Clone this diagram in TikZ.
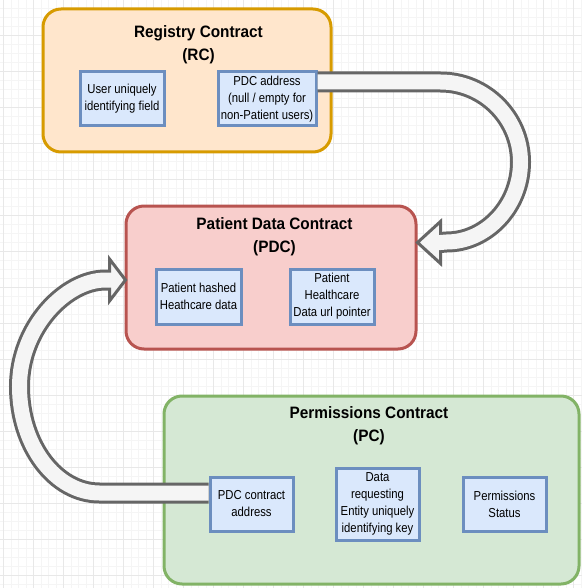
\documentclass[tikz,border=0pt]{standalone}
\usepackage{fontspec}
\setmainfont{Liberation Sans}[FakeStretch=0.87]
\newfontfamily\titlefont{Liberation Sans}[FakeStretch=0.93]
\usetikzlibrary{calc}
\definecolor{rcfill}{HTML}{FFE6CC}
\definecolor{rcline}{HTML}{D79B00}
\definecolor{pdcfill}{HTML}{F8CECC}
\definecolor{pdcline}{HTML}{B85450}
\definecolor{pcfill}{HTML}{D5E8D4}
\definecolor{pcline}{HTML}{82B366}
\definecolor{fieldfill}{HTML}{DAE8FC}
\definecolor{fieldline}{HTML}{6C8EBF}
\definecolor{arrowfill}{HTML}{F5F5F5}
\definecolor{arrowline}{HTML}{666666}
\newcommand{\fnode}[4]{\node(#1)[field,minimum width=#3,minimum height=#4] at #2}
\newcommand{\flexarrow}[2]{%
  \draw[shaftout] #1;
  \filldraw[tipshape] #2;
  \draw[shaftin,shorten >=-3pt] #1;}

\begin{document}
\begin{tikzpicture}[
        x=1pt,y=-1pt,
        every node/.style={font=\fontsize{13}{17}\selectfont,align=center},
        contract/.style={rectangle,rounded corners=18pt,line width=3pt},
        field/.style={rectangle,line width=3pt,draw=fieldline,fill=fieldfill,inner sep=1pt},
        heading/.style={font=\titlefont\bfseries\fontsize{16.5}{23}\selectfont},
        shaftout/.style={draw=arrowline,line width=21pt},
        shaftin/.style={draw=arrowfill,line width=15pt},
        tipshape/.style={fill=arrowfill,draw=arrowline,line width=3pt,line join=miter},
        gridminor/.style={draw=black!4,line width=0.6pt},
        gridmajor/.style={draw=black!9,line width=0.6pt}
      ]
      \useasboundingbox[fill=white] (0,0) rectangle (582,588);

      % faint background grid
      \foreach \gx in {3.3,10.8,...,582} \draw[gridminor] (\gx,0) -- (\gx,588);
      \foreach \gy in {-1,8,...,588} \draw[gridminor] (0,\gy) -- (582,\gy);
      \foreach \gx in {3.3,33.3,...,582} \draw[gridmajor] (\gx,0) -- (\gx,588);
      \foreach \gy in {-1,35,...,588} \draw[gridmajor] (0,\gy) -- (582,\gy);

      % Contracts
      \node(rc)[contract,draw=rcline,fill=rcfill,minimum width=288pt,minimum height=143pt] at (187,80.5) {};
      \node(pdc)[contract,draw=pdcline,fill=pdcfill,minimum width=290pt,minimum height=143pt] at (271,277.5) {};
      \node(pc)[contract,draw=pcline,fill=pcfill,minimum width=415pt,minimum height=188pt] at (371.5,490) {};

      \node(rctitle)[heading] at (198.5,44.5) {Registry Contract\\(RC)};
      \node(pdctitle)[heading] at (274.5,237) {Patient Data Contract\\(PDC)};
      \node(pctitle)[heading] at (369,426) {Permissions Contract\\(PC)};

      % Fields of each contract
      \fnode{userid}{(122,99)}{84pt}{54pt} {User uniquely\\identifying field};
      \fnode{pdcaddr}{(267,99)}{98pt}{54pt} {PDC address\\(null / empty for\\non-Patient users)};

      \fnode{hashed}{(198.5,296.5)}{85pt}{55pt} {Patient hashed\\Heathcare data};
      \fnode{urlptr}{(332,296.5)}{84pt}{55pt} {Patient\\Healthcare\\Data url pointer};

      \fnode{pcaddr}{(251.5,504)}{83pt}{54pt} {PDC contract\\address};
      \fnode{reqkey}{(377.5,504)}{83pt}{72pt} {Data\\requesting\\Entity uniquely\\identifying key};
      \fnode{permstat}{(504.5,504)}{83pt}{54pt} {Permissions\\Status};

      % Big curved arrows
      \coordinate (a1s) at ($(pdcaddr.east)+(0,-17)$);
      \coordinate (a1t) at ($(pdc.east)+(0,-35)$);
      \coordinate (a1b) at ($(a1t)+(23,0)$);
      \flexarrow{(a1s) -- (a1s -| a1b) .. controls +(44,0) and +(0,-44) .. ++(80,80)
                 .. controls +(0,44) and +(40,0) .. ++(-74,80) -- (a1b)}
                {(a1t) -- ($(a1b)+(0,-21)$) -- ($(a1b)+(0,21)$) -- cycle}

      \coordinate (a2s) at ($(pcaddr.west)+(0,-11)$);
      \coordinate (a2t) at ($(pdc.west)+(1,2.5)$);
      \coordinate (a2b) at ($(a2t)+(-16,0)$);
      \flexarrow{(a2s) -- ++(-109,0) .. controls +(-44,0) and +(0,58.8) .. ++(-80,-106.5)
                 .. controls +(0,-58.8) and +(-40,0) .. ++(86,-106.5) -- (a2b)}
                {(a2t) -- ($(a2b)+(0,-21)$) -- ($(a2b)+(0,21)$) -- cycle}
    \end{tikzpicture}
\end{document}
